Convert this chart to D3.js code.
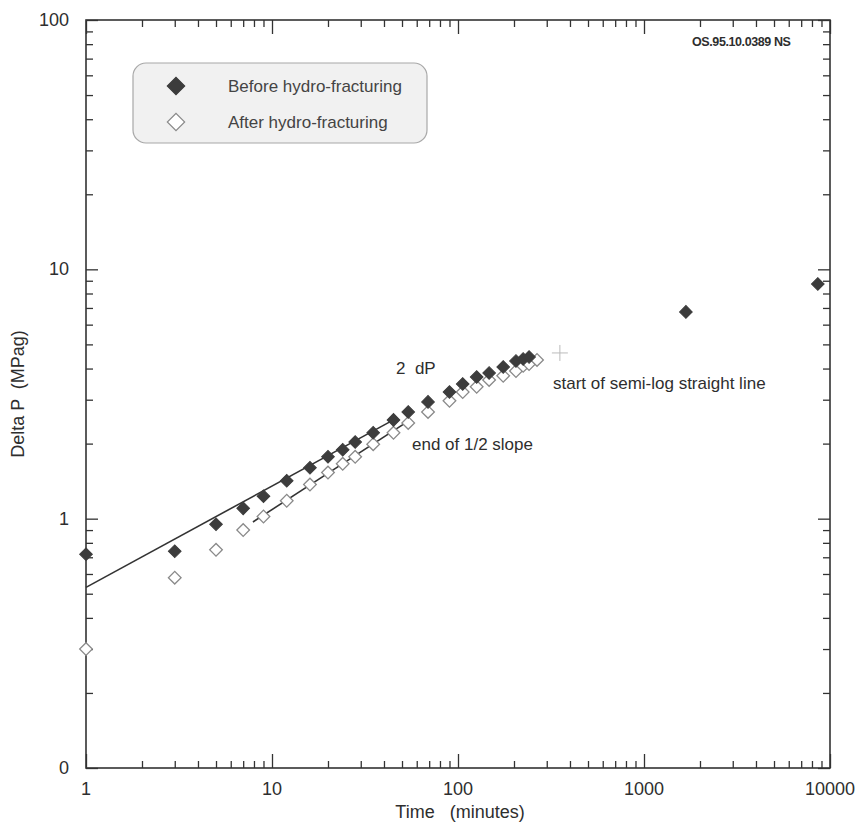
<!DOCTYPE html>
<html>
<head>
<meta charset="utf-8">
<script src="https://cdn.jsdelivr.net/npm/d3@7"></script>
<style>
  body { margin: 0; background: #fff; }
  text { font-family: Arial, "Liberation Sans", sans-serif; fill: #2e2e2e; }
</style>
</head>
<body>
<div id="chart"></div>
<script>
// data *****************************
var beforeTime = [1, 3, 5, 7, 9, 12, 16, 20, 24, 28, 35, 45, 54, 69, 90, 106, 126, 147, 175, 205, 224, 241, 1680, 8600];
var beforeDP = [0.72, 0.74, 0.95, 1.10, 1.23, 1.42, 1.60, 1.77, 1.89, 2.03, 2.21, 2.49, 2.68, 2.94, 3.22, 3.47, 3.70, 3.84, 4.06, 4.29, 4.37, 4.45, 6.75, 8.74];

var afterTime = [1, 3, 5, 7, 9, 12, 16, 20, 24, 28, 35, 45, 54, 69, 90, 106, 126, 147, 175, 205, 224, 241, 266];
var afterDP = [0.30, 0.58, 0.75, 0.90, 1.02, 1.18, 1.37, 1.53, 1.66, 1.77, 1.99, 2.21, 2.42, 2.68, 2.97, 3.22, 3.38, 3.60, 3.74, 3.91, 4.10, 4.17, 4.33];

// straight line fits
var fitBeforeTime = [1, 45];
var fitBeforeDP = [0.53, 2.49];
var fitAfterTime = [7.9, 53];
var fitAfterDP = [0.97, 2.44];

// marker at start of semi-log straight line
var startTime = [353];
var startDP = [4.62];

var xTicks = [1, 10, 100, 1000, 10000];
var xTickLabels = ['1', '10', '100', '1000', '10000'];
var yTicks = [0.1, 1, 10, 100];
var yTickLabels = ['0', '1', '10', '100'];
var legendLabels = ['Before hydro-fracturing', 'After hydro-fracturing'];

// svg ***********
var svgWidth = 862;
var svgHeight = 826;
var margin = { top: 20, right: 32, bottom: 58, left: 86 };
var width = svgWidth - margin.left - margin.right;
var height = svgHeight - margin.top - margin.bottom;

var svg = d3.select('#chart')
  .append('svg')
  .attr('width', svgWidth)
  .attr('height', svgHeight);

var chart = svg.append('g')
  .attr('transform', `translate(${margin.left}, ${margin.top})`);

// scales ***********
var x = d3.scaleLog().domain([1, 10000]).range([0, width]);
var y = d3.scaleLog().domain([0.1, 100]).range([height, 0]);

// minor ticks 2..9 per decade
function minors(lo, hi) {
  var out = [];
  for (var d = lo; d < hi; d *= 10) {
    for (var k = 2; k <= 9; k++) out.push(d * k);
  }
  return out;
}
var xMinor = minors(1, 10000);
var yMinor = minors(0.1, 100);

// axes, ticks drawn inward on all four sides ***********
function drawAxis(axis, transform) {
  var g = chart.append('g').attr('transform', transform).call(axis);
  g.select('.domain').remove();
  g.selectAll('.tick line').attr('stroke', '#333').attr('stroke-width', 1.3);
  g.selectAll('.tick text').remove();
  return g;
}

drawAxis(d3.axisBottom(x).tickValues(xTicks).tickSize(-14), `translate(0,${height})`);
drawAxis(d3.axisBottom(x).tickValues(xMinor).tickSize(-7), `translate(0,${height})`);
drawAxis(d3.axisTop(x).tickValues(xTicks).tickSize(-14), 'translate(0,0)');
drawAxis(d3.axisTop(x).tickValues(xMinor).tickSize(-7), 'translate(0,0)');
drawAxis(d3.axisLeft(y).tickValues(yTicks).tickSize(-12), 'translate(0,0)');
drawAxis(d3.axisLeft(y).tickValues(yMinor).tickSize(-7), 'translate(0,0)');
drawAxis(d3.axisRight(y).tickValues(yTicks).tickSize(-12), `translate(${width},0)`);
drawAxis(d3.axisRight(y).tickValues(yMinor).tickSize(-7), `translate(${width},0)`);

// frame
chart.append('rect')
  .attr('width', width)
  .attr('height', height)
  .attr('fill', 'none')
  .attr('stroke', '#333')
  .attr('stroke-width', 1.6);

// tick labels
chart.selectAll('.xlab')
  .data(xTicks)
  .enter()
  .append('text')
  .attr('x', d => x(d))
  .attr('y', height + 27)
  .attr('text-anchor', 'middle')
  .style('font-size', '18px')
  .text((d, i) => xTickLabels[i]);

chart.selectAll('.ylab')
  .data(yTicks)
  .enter()
  .append('text')
  .attr('x', -17)
  .attr('y', d => y(d) + 6)
  .attr('text-anchor', 'end')
  .style('font-size', '18px')
  .text((d, i) => yTickLabels[i]);

// axis titles
svg.append('text')
  .attr('x', 460)
  .attr('y', 818)
  .attr('text-anchor', 'middle')
  .style('font-size', '18px')
  .style('white-space', 'pre')
  .text('Time   (minutes)');

svg.append('text')
  .attr('transform', 'translate(24, 394) rotate(-90)')
  .attr('text-anchor', 'middle')
  .style('font-size', '18px')
  .style('white-space', 'pre')
  .text('Delta P  (MPag)');

// fit lines ***********
var line = d3.line().x(d => x(d[0])).y(d => y(d[1]));

chart.append('path')
  .datum(d3.zip(fitBeforeTime, fitBeforeDP))
  .attr('d', line)
  .attr('fill', 'none')
  .attr('stroke', '#333')
  .attr('stroke-width', 1.6);

chart.append('path')
  .datum(d3.zip(fitAfterTime, fitAfterDP))
  .attr('d', line)
  .attr('fill', 'none')
  .attr('stroke', '#333')
  .attr('stroke-width', 1.6);

// diamonds ***********
var diamond = d3.symbol().type(d3.symbolSquare).size(80);

chart.selectAll('.after')
  .data(d3.zip(afterTime, afterDP))
  .enter()
  .append('path')
  .attr('d', diamond)
  .attr('transform', d => `translate(${x(d[0])},${y(d[1])}) rotate(45)`)
  .attr('fill', '#fff')
  .attr('stroke', '#8a8a8a')
  .attr('stroke-width', 1.3);

chart.selectAll('.before')
  .data(d3.zip(beforeTime, beforeDP))
  .enter()
  .append('path')
  .attr('d', diamond)
  .attr('transform', d => `translate(${x(d[0])},${y(d[1])}) rotate(45)`)
  .attr('fill', '#3c3c3c')
  .attr('stroke', '#3c3c3c')
  .attr('stroke-width', 1);

// faint + marker
chart.selectAll('.startcross')
  .data(d3.zip(startTime, startDP))
  .enter()
  .append('path')
  .attr('d', 'M-8,0H8M0,-8V8')
  .attr('transform', d => `translate(${x(d[0])},${y(d[1])})`)
  .attr('stroke', '#bbb')
  .attr('stroke-width', 1);

// annotations ***********
svg.append('text').attr('x', 396).attr('y', 374).style('font-size', '17px')
  .style('white-space', 'pre').text('2  dP');
svg.append('text').attr('x', 412).attr('y', 450).style('font-size', '17px')
  .text('end of 1/2 slope');
svg.append('text').attr('x', 553).attr('y', 389).style('font-size', '17px')
  .text('start of semi-log straight line');
svg.append('text').attr('x', 692).attr('y', 46).style('font-size', '12.5px')
  .style('font-weight', 'bold').style('letter-spacing', '-0.4px')
  .text('OS.95.10.0389 NS');

// legend ***********
var legend = svg.append('g');
legend.append('rect')
  .attr('x', 133).attr('y', 63)
  .attr('width', 294).attr('height', 80)
  .attr('rx', 13)
  .attr('fill', '#f1f1f1')
  .attr('stroke', '#a8a8a8')
  .attr('stroke-width', 1.2);

var legendItems = legend.selectAll('.item')
  .data(legendLabels)
  .enter()
  .append('g')
  .attr('transform', (d, i) => `translate(176, ${86 + i * 36})`);

legendItems.append('path')
  .attr('d', d3.symbol().type(d3.symbolSquare).size(150))
  .attr('transform', 'rotate(45)')
  .attr('fill', (d, i) => i === 0 ? '#3c3c3c' : '#fff')
  .attr('stroke', (d, i) => i === 0 ? '#3c3c3c' : '#8a8a8a')
  .attr('stroke-width', 1.2);

legendItems.append('text')
  .attr('x', 52)
  .attr('y', 6)
  .style('font-size', '17px')
  .style('fill', '#444')
  .text(d => d);
</script>
</body>
</html>
